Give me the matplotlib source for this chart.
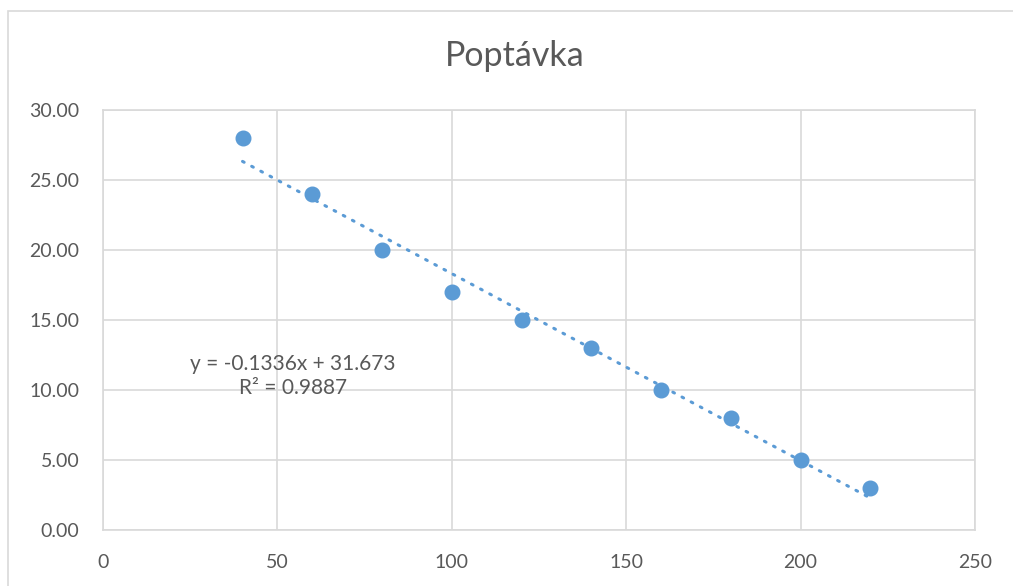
import matplotlib
matplotlib.use("Agg")
import matplotlib.pyplot as plt
import numpy as np
from matplotlib.patches import Rectangle

x_vals = [40, 60, 80, 100, 120, 140, 160, 180, 200, 220]
y_vals = [28, 24, 20, 17, 15, 13, 10, 8, 5, 3]
slope = -0.1336
intercept = 31.673
title = "Poptávka"
eq_text = "y = -0.1336x + 31.673\nR² = 0.9887"
x_ticks = [0, 50, 100, 150, 200, 250]
y_ticks = [0, 5, 10, 15, 20, 25, 30]

plt.rcParams['font.family'] = ['Lato', 'DejaVu Sans']
txt = '#595959'
grid = '#D9D9D9'
blue = '#5B9BD5'

fig = plt.figure(figsize=(10.13, 5.86), dpi=100)
fig.patches.append(Rectangle((8/1013, -0.05), 1.1, 1 - 11/586 + 0.05, transform=fig.transFigure,
                             fill=False, edgecolor=grid, linewidth=1.2))
ax = fig.add_axes([103/1013, 1 - 530/586, (975-103)/1013, (530-110)/586])

xs = np.array([min(x_vals), max(x_vals)])
ax.plot(xs, slope * xs + intercept, linestyle=(0, (0.6, 2.8)), color=blue, linewidth=2.2,
        dash_capstyle='round', zorder=2)
ax.plot(x_vals, y_vals, 'o', color=blue, markersize=10.5, zorder=3)

ax.set_xlim(0, 250)
ax.set_ylim(0, 30)
ax.set_xticks(x_ticks)
ax.set_yticks(y_ticks)
ax.set_yticklabels([f"{v:.2f}" for v in y_ticks])
ax.grid(True, color=grid, linewidth=1.2)
ax.set_axisbelow(True)
for s in ax.spines.values():
    s.set_color(grid)
    s.set_linewidth(1.2)
ax.tick_params(length=0, labelsize=14, colors=txt)
ax.tick_params(axis='y', pad=17)
ax.tick_params(axis='x', pad=17)

ax.text(54.5, 11.0, eq_text, ha='center', va='center', fontsize=15, color=txt, linespacing=1.3)
fig.text(515/1013, 1 - 56/586, title, ha='center', va='center', fontsize=24.5, color=txt)

fig.savefig("out.png", dpi=100)
